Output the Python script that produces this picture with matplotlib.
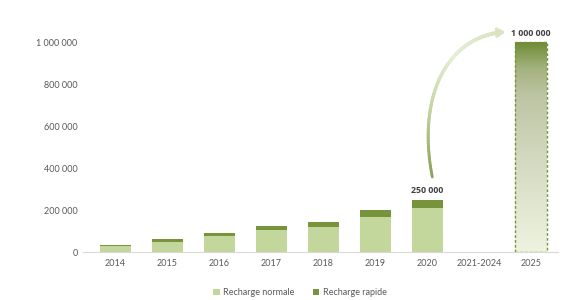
import numpy as np
import matplotlib.pyplot as plt
from matplotlib.colors import LinearSegmentedColormap
from matplotlib.collections import LineCollection
from matplotlib.ticker import FuncFormatter

categories = ["2014", "2015", "2016", "2017", "2018", "2019", "2020", "2021-2024", "2025"]
normale = [27000, 50000, 74000, 105000, 117000, 168000, 210000, 0, 0]
rapide = [6000, 10000, 15000, 20000, 24000, 30000, 40000, 0, 0]
target_2025 = 1000000
label_2020 = "250 000"
label_2025 = "1 000 000"

light_green = "#c3d69b"
dark_green = "#77933c"
grey = "#595959"

plt.rcParams["font.family"] = ["Lato", "DejaVu Sans"]

fig = plt.figure(figsize=(5.7, 3.0), dpi=100)
ax = fig.add_axes([0.146, 0.16, 0.833, 0.77])

x = np.arange(len(categories))
w = 0.6
b1 = ax.bar(x, normale, w, color=light_green, label="Recharge normale")
b2 = ax.bar(x, rapide, w, bottom=normale, color=dark_green, label="Recharge rapide")

# 2025 target bar: dashed outline + vertical gradient
i25 = categories.index("2025")
target = ax.bar(x[i25], target_2025, w, facecolor="none", edgecolor=dark_green,
                linestyle=(0, (2, 1.5)), linewidth=1.0, zorder=3)[0]
cmap = LinearSegmentedColormap.from_list(
    "grad", [(0, "#eef3e0"), (0.45, "#d3d9bf"), (0.75, "#bdc4a3"),
             (0.88, "#a3b27d"), (1, "#6f8c34")], N=256)
grad = np.linspace(0, 1, 256).reshape(-1, 1)
im = ax.imshow(grad, cmap=cmap, origin="lower", aspect="auto",
               extent=[x[i25] - w / 2, x[i25] + w / 2, 0, target_2025], zorder=2)
im.set_clip_path(target)

# value labels
i20 = categories.index("2020")
ax.text(x[i20], normale[i20] + rapide[i20] + 22000, label_2020, ha="center", va="bottom",
        fontsize=6.3, fontweight="bold", family=["Open Sans", "DejaVu Sans"], color="#404040")
ax.text(x[i25], target_2025 + 18000, label_2025, ha="center", va="bottom",
        fontsize=6.3, fontweight="bold", family=["Open Sans", "DejaVu Sans"], color="#404040")

# curved arrow from 2020 to 2025 (cubic bezier, fading colour)
p = np.array([[6.10, 357000], [5.81, 724000], [6.33, 1010000], [7.40, 1046000]])
t = np.linspace(0, 1, 80)[:, None]
curve = ((1 - t) ** 3 * p[0] + 3 * (1 - t) ** 2 * t * p[1]
         + 3 * (1 - t) * t ** 2 * p[2] + t ** 3 * p[3])
segs = np.stack([curve[:-1], curve[1:]], axis=1)
arrow_cmap = LinearSegmentedColormap.from_list("arr", ["#8aa356", "#c6d5a4", "#e6eed4", "#d9e4c2"])
lc = LineCollection(segs, cmap=arrow_cmap, linewidths=np.linspace(2.0, 2.8, len(segs)),
                    capstyle="round", zorder=4)
lc.set_array(np.linspace(0, 1, len(segs)))
ax.add_collection(lc)
ax.annotate("", xy=(7.56, 1048000), xytext=(7.36, 1045000),
            arrowprops=dict(arrowstyle="-|>,head_length=0.45,head_width=0.28",
                            color="#d9e4c2", lw=2.0), zorder=5)

ax.set_xlim(-0.62, 8.52)
ax.set_ylim(0, 1100000)
ax.set_xticks(x)
ax.set_xticklabels(categories)
ax.set_yticks(np.arange(0, 1000001, 200000))
ax.yaxis.set_major_formatter(FuncFormatter(lambda v, pos: f"{int(v):,}".replace(",", " ")))
ax.tick_params(axis="both", length=0, labelsize=6.5, labelcolor=grey)
ax.tick_params(axis="x", pad=5)
ax.tick_params(axis="y", pad=4)
for s in ["top", "right", "left"]:
    ax.spines[s].set_visible(False)
ax.spines["bottom"].set_color("#d9d9d9")

fig.legend(handles=[b1, b2], loc="center", bbox_to_anchor=(0.526, 0.025), ncol=2,
           frameon=False, fontsize=6.5, labelcolor=grey, handlelength=0.7,
           handleheight=0.7, handletextpad=0.4, columnspacing=2.0)

fig.savefig("out.png", dpi=100)
